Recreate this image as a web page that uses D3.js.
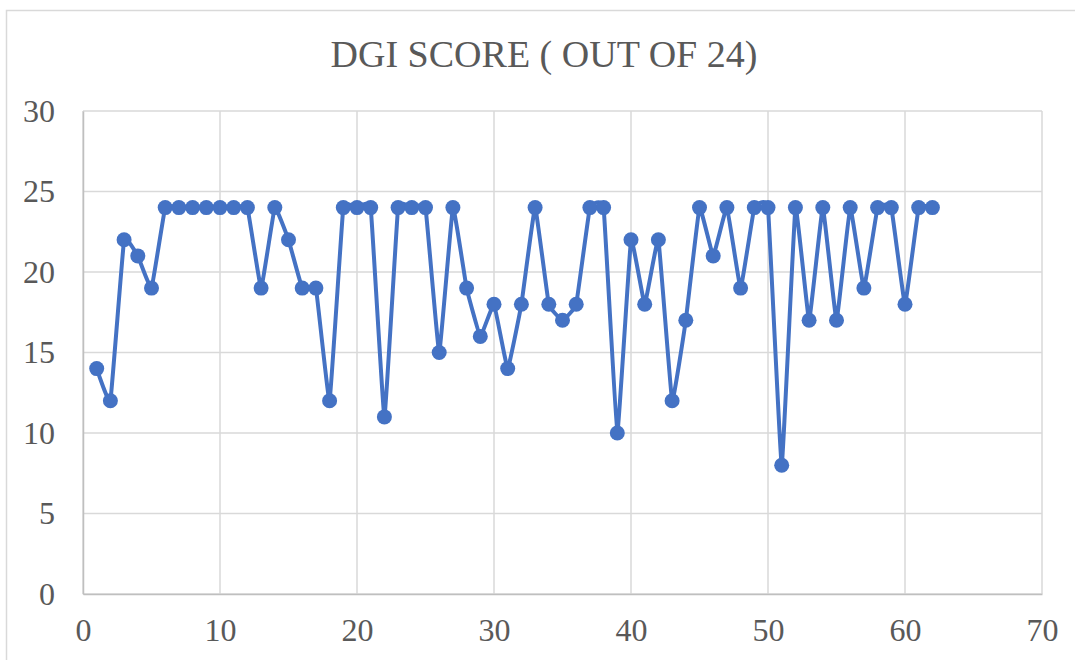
<!DOCTYPE html>
<html>
<head>
<meta charset="utf-8">
<script src="https://cdn.jsdelivr.net/npm/d3@7"></script>
<style>
  body { margin: 0; background: #fff; }
  text { font-family: "Liberation Serif", "DejaVu Serif", serif; fill: #595959; }
</style>
</head>
<body>
<div id="chart"></div>
<script>
var svgWidth = 1075;
var svgHeight = 660;

// data
var subjects = d3.range(1, 63);
var scores = [14, 12, 22, 21, 19, 24, 24, 24, 24, 24, 24, 24, 19, 24, 22, 19, 19, 12, 24, 24,
  24, 11, 24, 24, 24, 15, 24, 19, 16, 18, 14, 18, 24, 18, 17, 18, 24, 24, 10, 22,
  18, 22, 12, 17, 24, 21, 24, 19, 24, 24, 8, 24, 17, 24, 17, 24, 19, 24, 24, 18,
  24, 24];
var xTicks = [0, 10, 20, 30, 40, 50, 60, 70];
var yTicks = [0, 5, 10, 15, 20, 25, 30];
var title = "DGI SCORE ( OUT OF 24)";

var margin = { top: 111, right: 33, bottom: 66, left: 83 };
var width = svgWidth - margin.left - margin.right;
var height = svgHeight - margin.top - margin.bottom;

var svg = d3.select("#chart")
  .append("svg")
  .attr("width", svgWidth)
  .attr("height", svgHeight);

// outer chart border
svg.append("rect")
  .attr("x", 6.5)
  .attr("y", 10.5)
  .attr("width", 1100)
  .attr("height", 700)
  .attr("fill", "none")
  .attr("stroke", "#d9d9d9")
  .attr("stroke-width", 1.5);

svg.append("text")
  .attr("x", 544)
  .attr("y", 67)
  .attr("text-anchor", "middle")
  .attr("font-size", "38px")
  .text(title);

var chartGroup = svg.append("g")
  .attr("transform", `translate(${margin.left}, ${margin.top})`);

var xScale = d3.scaleLinear().domain([0, 70]).range([0, width]);
var yScale = d3.scaleLinear().domain([0, 30]).range([height, 0]);

// gridlines
chartGroup.append("g")
  .selectAll("line")
  .data(yTicks)
  .enter()
  .append("line")
  .attr("x1", 0)
  .attr("x2", width)
  .attr("y1", d => yScale(d))
  .attr("y2", d => yScale(d))
  .attr("stroke", "#d9d9d9")
  .attr("stroke-width", 1.5);

chartGroup.append("g")
  .selectAll("line")
  .data(xTicks)
  .enter()
  .append("line")
  .attr("x1", d => xScale(d))
  .attr("x2", d => xScale(d))
  .attr("y1", 0)
  .attr("y2", height)
  .attr("stroke", "#d9d9d9")
  .attr("stroke-width", 1.5);

// axes
var bottomAxis = d3.axisBottom(xScale).tickValues(xTicks).tickSize(0).tickPadding(24);
var leftAxis = d3.axisLeft(yScale).tickValues(yTicks).tickSize(0).tickPadding(28);

var xAxisG = chartGroup.append("g")
  .attr("transform", `translate(0, ${height})`)
  .call(bottomAxis);
var yAxisG = chartGroup.append("g").call(leftAxis);

[xAxisG, yAxisG].forEach(function(g) {
  g.select(".domain").attr("stroke", "#bfbfbf").attr("stroke-width", 1.5);
  g.selectAll("text")
    .attr("font-family", "Liberation Serif, DejaVu Serif, serif")
    .attr("font-size", "32px")
    .attr("fill", "#595959");
});
xAxisG.selectAll("text").attr("dy", "0.71em");

// line + markers (Excel smoothing is only slight here)
var line = d3.line()
  .x((d, i) => xScale(subjects[i]))
  .y(d => yScale(d))
  .curve(d3.curveCardinal.tension(0.75));

chartGroup.append("path")
  .datum(scores)
  .attr("d", line)
  .attr("fill", "none")
  .attr("stroke", "#4472c4")
  .attr("stroke-width", 4)
  .attr("stroke-linejoin", "round");

chartGroup.selectAll("circle")
  .data(scores)
  .enter()
  .append("circle")
  .attr("cx", (d, i) => xScale(subjects[i]))
  .attr("cy", d => yScale(d))
  .attr("r", 7.5)
  .attr("fill", "#4472c4");
</script>
</body>
</html>
